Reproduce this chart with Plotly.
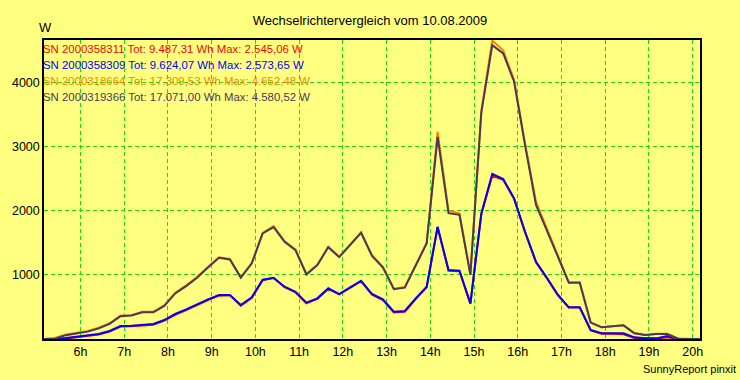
import pandas as pd
import plotly.graph_objects as go

# ---- data (15-minute samples, 05:10 .. 20:10) ----
times = ["05:10", "05:25", "05:40", "05:55", "06:10", "06:25", "06:40", "06:55",
         "07:10", "07:25", "07:40", "07:55", "08:10", "08:25", "08:40", "08:55",
         "09:10", "09:25", "09:40", "09:55", "10:10", "10:25", "10:40", "10:55",
         "11:10", "11:25", "11:40", "11:55", "12:10", "12:25", "12:40", "12:55",
         "13:10", "13:25", "13:40", "13:55", "14:10", "14:25", "14:40", "14:55",
         "15:10", "15:25", "15:40", "15:55", "16:10", "16:25", "16:40", "16:55",
         "17:10", "17:25", "17:40", "17:55", "18:10", "18:25", "18:40", "18:55",
         "19:10", "19:25", "19:40", "19:55", "20:10"]

sn_358311 = [0, 0, 8, 28, 50, 70, 115, 195, 200, 205, 220, 285, 378, 450, 530, 605,
             675, 680, 520, 638, 915, 950, 808, 728, 556, 625, 780, 694, 795, 900, 692, 608,
             415, 425, 622, 805, 1740, 1065, 1056, 548, 1945, 2545, 2480, 2180, 1660, 1195,
             945, 680, 490, 490, 135, 80, 80, 75, 15, 5, 5, 26, 0, 0, 0]
sn_358309 = [0, 0, 15, 36, 57, 78, 125, 203, 208, 218, 234, 296, 390, 462, 545, 618,
             686, 686, 530, 649, 925, 955, 815, 737, 566, 634, 790, 701, 805, 908, 701, 618,
             425, 436, 634, 815, 1750, 1075, 1064, 556, 1958, 2574, 2493, 2192, 1672, 1204,
             955, 690, 494, 494, 140, 89, 89, 89, 26, 10, 10, 47, 3, 0, 0]
sn_318664 = [0, 15, 70, 100, 125, 175, 245, 365, 372, 425, 425, 525, 720, 835, 965, 1125,
             1275, 1250, 965, 1185, 1655, 1760, 1525, 1395, 1015, 1160, 1440, 1285, 1475, 1665,
             1305, 1125, 785, 810, 1155, 1500, 3230, 2000, 1960, 1010, 3560, 4652, 4500, 4035,
             3050, 2140, 1720, 1300, 885, 885, 260, 185, 195, 215, 92, 64, 80, 80, 6, 0, 0]
sn_319366 = [0, 5, 60, 90, 115, 165, 235, 355, 365, 415, 415, 515, 710, 825, 955, 1115,
             1265, 1240, 955, 1175, 1645, 1745, 1515, 1385, 1005, 1150, 1430, 1275, 1465, 1655,
             1295, 1115, 775, 800, 1145, 1490, 3150, 1960, 1935, 1000, 3530, 4580, 4450, 4010,
             3020, 2090, 1690, 1270, 877, 877, 255, 182, 192, 213, 90, 62, 78, 78, 5, 0, 0]

legend_labels = [
    "SN 2000358311 Tot: 9.487,31 Wh Max: 2.545,06 W",
    "SN 2000358309 Tot: 9.624,07 Wh Max: 2.573,65 W",
    "SN 2000318664 Tot: 17.309,53 Wh Max: 4.652,48 W",
    "SN 2000319366 Tot: 17.071,00 Wh Max: 4.580,52 W",
]
colors = ["#FF0000", "#0000FF", "#FF8000", "#4B3858"]

tick_hours = [6, 7, 8, 9, 10, 11, 12, 13, 14, 15, 16, 17, 18, 19, 20]
tick_labels = ["6h", "7h", "8h", "9h", "10h", "11h", "12h", "13h", "14h",
               "15h", "16h", "17h", "18h", "19h", "20h"]
y_ticks = [1000, 2000, 3000, 4000]

title_text = "Wechselrichtervergleich vom 10.08.2009"
footer_text = "SunnyReport pinxit"
day = "2009-08-10"

# ---- figure ----
x = pd.to_datetime([f"{day} {t}" for t in times])
series = [sn_358311, sn_358309, sn_318664, sn_319366]

FONT = "Arial, 'Liberation Sans', sans-serif"
BG = "#FFFF80"
GRID = "#10E010"
DASH = "4px,3px"

fig = go.Figure()
for vals, col, lab in zip(series, colors, legend_labels):
    fig.add_trace(go.Scatter(x=x, y=vals, mode="lines", name=lab,
                             line=dict(color=col, width=2), showlegend=False))

# legend text lines inside plot
legend_y = [0.970, 0.918, 0.864, 0.811]
for lab, col, yy in zip(legend_labels, colors, legend_y):
    fig.add_annotation(text=lab, xref="paper", yref="paper", x=-0.004, y=yy,
                       xanchor="left", yanchor="middle", showarrow=False,
                       font=dict(family=FONT, size=11.4, color=col))

fig.add_annotation(text="W", xref="paper", yref="paper", x=-0.010, y=1.043,
                   xanchor="left", yanchor="middle", showarrow=False,
                   font=dict(family=FONT, size=13, color="black"))
fig.add_annotation(text=footer_text, xref="paper", yref="paper", x=1.058, y=-0.075,
                   xanchor="right", yanchor="top", showarrow=False,
                   font=dict(family=FONT, size=11, color="black"))

tickvals = pd.to_datetime([f"{day} {h:02d}:00" for h in tick_hours])

fig.update_layout(
    width=740, height=380,
    margin=dict(l=41, r=40, t=40, b=41),
    paper_bgcolor=BG, plot_bgcolor=BG,
    title=dict(text=title_text, x=0.5, xanchor="center", y=0.947, yanchor="middle",
               font=dict(family=FONT, size=13, color="black")),
    font=dict(family=FONT, size=12.5, color="black"),
)
fig.update_xaxes(
    range=[x[0], x[-1]],
    tickvals=tickvals, ticktext=tick_labels,
    showgrid=True, gridcolor=GRID, griddash=DASH, gridwidth=1,
    showline=True, linecolor="black", linewidth=1.5, mirror=True,
    ticks="", zeroline=False,
    tickfont=dict(family=FONT, size=12.5, color="black"),
)
fig.update_yaxes(
    range=[0, 4660],
    tickvals=y_ticks,
    showgrid=True, gridcolor=GRID, griddash=DASH, gridwidth=1,
    showline=True, linecolor="black", linewidth=1.5, mirror=True,
    ticks="", zeroline=False,
    tickfont=dict(family=FONT, size=12.5, color="black"),
)

fig.write_html("out.html", config={"displayModeBar": False},
               post_script="document.body.style.margin='0';document.body.style.overflow='hidden';")
